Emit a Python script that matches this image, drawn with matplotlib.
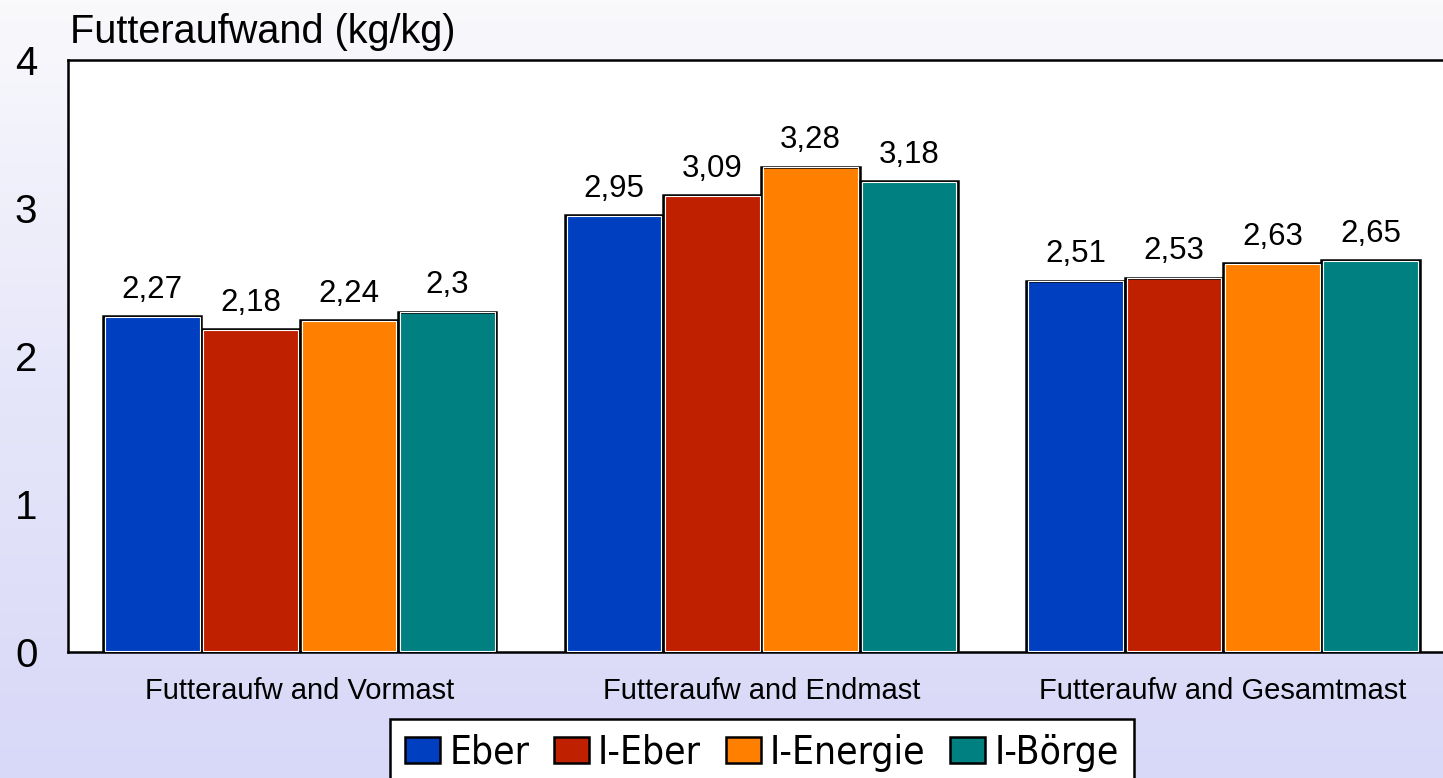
import numpy as np
import matplotlib
matplotlib.use("Agg")
import matplotlib.pyplot as plt
from matplotlib.colors import LinearSegmentedColormap

categories = ["Futteraufw and Vormast", "Futteraufw and Endmast", "Futteraufw and Gesamtmast"]
groups = ["Eber", "I-Eber", "I-Energie", "I-Börge"]
eber = [2.27, 2.95, 2.51]
i_eber = [2.18, 3.09, 2.53]
i_energie = [2.24, 3.28, 2.63]
i_boerge = [2.30, 3.18, 2.65]
colors = ["#0040C0", "#BF2000", "#FF8000", "#008080"]

plt.rcParams['font.family'] = ['Liberation Sans', 'DejaVu Sans']

fig = plt.figure(figsize=(14.43, 7.78), dpi=100)

# gradient background
bg = fig.add_axes([0, 0, 1, 1], zorder=-10)
grad = LinearSegmentedColormap.from_list("bg", ["#D8D8F8", "#E6E6FA", "#F9F9FC"])
bg.imshow(np.linspace(0, 1, 256).reshape(-1, 1), aspect='auto', cmap=grad,
          origin='lower', extent=[0, 1, 0, 1])
bg.axis('off')

W, H = 1443, 778
ax = fig.add_axes([68 / W, 1 - 652 / H, (1454 - 68) / W, (652 - 60) / H])
ax.set_facecolor("white")

series = [eber, i_eber, i_energie, i_boerge]
x = np.arange(len(categories))
bw = 0.213
for i, (vals, c, name) in enumerate(zip(series, colors, groups)):
    pos = x + (i - 1.5) * bw
    bars = ax.bar(pos, vals, bw, color=c, edgecolor="black", linewidth=1.8, label=name, zorder=3)
    # thin white highlight inside the frame
    ax.bar(pos, np.array(vals) - 0.012, bw - 0.008, bottom=0.006, fill=False,
           edgecolor="white", linewidth=0.8, zorder=4)
    ax.bar_label(bars, labels=[f"{v:g}".replace(".", ",") for v in vals],
                 padding=8, fontsize=22.5)

ax.set_xlim(-0.502, 2.5)
ax.set_ylim(0, 4)
ax.set_yticks([0, 1, 2, 3, 4])
ax.set_xticks(x)
ax.set_xticklabels(categories, fontsize=21)
ax.tick_params(axis='y', length=0, labelsize=29, pad=22)
ax.tick_params(axis='x', length=0, pad=18)
for s in ax.spines.values():
    s.set_linewidth(1.8)
    s.set_color("black")

fig.text(70 / W, 1 - 43 / H, "Futteraufwand (kg/kg)", fontsize=28.5, ha='left', va='baseline')

leg = fig.legend(loc='upper center', bbox_to_anchor=(762 / W, 1 - 719 / H), ncol=4,
                 prop={'family': ['DejaVu Sans'], 'stretch': 'condensed', 'size': 28},
                 frameon=True, fancybox=False, edgecolor='black', framealpha=1,
                 handlelength=0.9, handleheight=0.67, handletextpad=0.23, columnspacing=0.64,
                 borderpad=0.38, borderaxespad=0)
leg.get_frame().set_linewidth(1.8)

fig.savefig("out.png", dpi=100)
